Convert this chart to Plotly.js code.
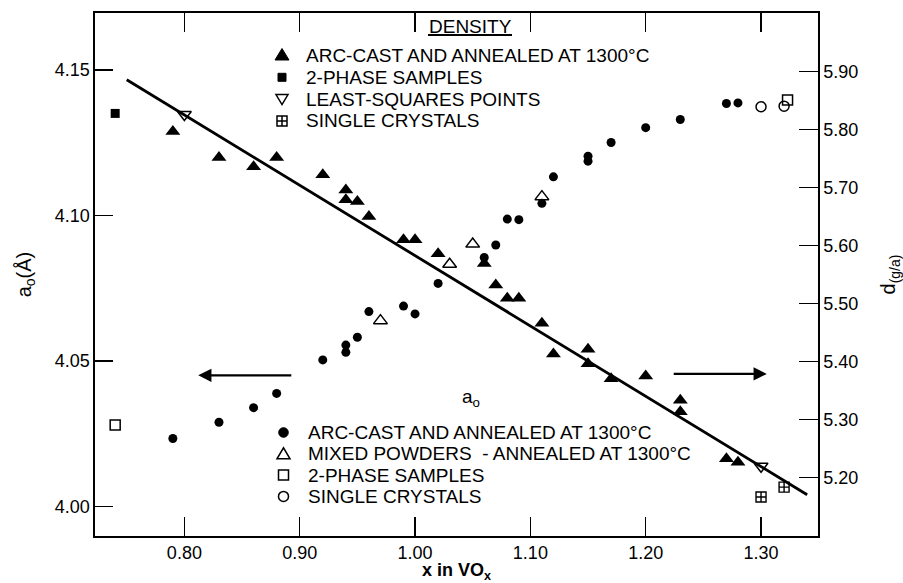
<!DOCTYPE html>
<html>
<head>
<meta charset="utf-8">
<script src="https://cdn.plot.ly/plotly-3.0.1.min.js"></script>
<style>
  html, body { margin: 0; padding: 0; background: #fff; }
  #chart { width: 903px; height: 583px; }
</style>
</head>
<body>
<div id="chart"></div>
<script>
// ---- Density (right axis, g/a) ----
const densArcX   = [0.79, 0.83, 0.86, 0.88, 0.92, 0.94, 0.94, 0.95, 0.96, 0.99, 1.00, 1.02, 1.06,
                    1.07, 1.08, 1.09, 1.11, 1.12, 1.15, 1.15, 1.17, 1.20, 1.23, 1.23, 1.27, 1.28];
const densArcD   = [5.797, 5.752, 5.736, 5.752, 5.722, 5.696, 5.679, 5.676, 5.650, 5.610, 5.610, 5.586, 5.569,
                    5.532, 5.509, 5.509, 5.466, 5.413, 5.421, 5.396, 5.370, 5.375, 5.333, 5.313, 5.232, 5.226];
const dens2PhX   = [0.74];
const dens2PhD   = [5.828];
const lsqX       = [0.80, 1.30];
const lsqD       = [5.826, 5.219];
const densXtalX  = [1.30, 1.32];
const densXtalD  = [5.166, 5.183];
const fitX       = [0.75, 1.34];
const fitD       = [5.886, 5.170];

// ---- Lattice parameter a0 (left axis, Angstrom) ----
const aArcX      = [0.79, 0.83, 0.86, 0.88, 0.92, 0.94, 0.94, 0.95, 0.96, 0.99, 1.00, 1.02, 1.06,
                    1.07, 1.08, 1.09, 1.11, 1.12, 1.15, 1.15, 1.17, 1.20, 1.23, 1.27, 1.28];
const aArcA      = [4.0234, 4.0290, 4.0340, 4.0389, 4.0504, 4.0555, 4.0530, 4.0582, 4.0670, 4.0689, 4.0662, 4.0767, 4.0856,
                    4.0899, 4.0988, 4.0986, 4.1042, 4.1133, 4.1204, 4.1187, 4.1251, 4.1302, 4.1330, 4.1385, 4.1387];
const aMixX      = [0.97, 1.03, 1.05, 1.11];
const aMixA      = [4.0639, 4.0833, 4.0902, 4.1065];
const a2PhX      = [0.74, 1.323];
const a2PhA      = [4.028, 4.1397];
const aXtalX     = [1.30, 1.32];
const aXtalA     = [4.1374, 4.1376];

// ---- Ticks ----
const xTicks     = [0.80, 0.90, 1.00, 1.10, 1.20, 1.30];
const aTicks     = [4.00, 4.05, 4.10, 4.15];
const dTicks     = [5.20, 5.30, 5.40, 5.50, 5.60, 5.70, 5.80, 5.90];

// ---- Legend labels ----
const densityLabels = ['ARC-CAST AND ANNEALED AT 1300°C', '2-PHASE SAMPLES', 'LEAST-SQUARES POINTS', 'SINGLE CRYSTALS'];
const aLabels       = ['ARC-CAST AND ANNEALED AT 1300°C', 'MIXED POWDERS  - ANNEALED AT 1300°C', '2-PHASE SAMPLES', 'SINGLE CRYSTALS'];

const FONT = 'Liberation Sans, Arial, Helvetica, sans-serif';
const INK = '#000';
const W = 903, H = 583;
const M = { l: 95, r: 85, t: 13, b: 47 };

// pixel position on the page -> paper fraction
const px2x = px => (px - M.l) / (W - M.l - M.r);
const py2y = py => (H - M.b - py) / (H - M.t - M.b);

const traces = [
  { x: fitX, y: fitD, yaxis: 'y2', mode: 'lines', line: { color: INK, width: 2.8 }, hoverinfo: 'skip' },
  { x: densArcX, y: densArcD, yaxis: 'y2', mode: 'markers',
    marker: { symbol: 'triangle-up', size: 13, color: INK, line: { width: 0 } } },
  { x: dens2PhX, y: dens2PhD, yaxis: 'y2', mode: 'markers',
    marker: { symbol: 'square', size: 9, color: INK, line: { width: 0 } } },
  { x: lsqX, y: lsqD, yaxis: 'y2', mode: 'markers',
    marker: { symbol: 'triangle-down-open', size: 12, color: INK, line: { width: 1.5, color: INK } } },
  { x: densXtalX, y: densXtalD, yaxis: 'y2', mode: 'markers',
    marker: { symbol: 'square-cross-open', size: 10, color: INK, line: { width: 1.4, color: INK } } },
  { x: aArcX, y: aArcA, yaxis: 'y', mode: 'markers',
    marker: { symbol: 'circle', size: 9, color: INK, line: { width: 0 } } },
  { x: aMixX, y: aMixA, yaxis: 'y', mode: 'markers',
    marker: { symbol: 'triangle-up-open', size: 12, color: INK, line: { width: 1.5, color: INK } } },
  { x: a2PhX, y: a2PhA, yaxis: 'y', mode: 'markers',
    marker: { symbol: 'square-open', size: 10, color: INK, line: { width: 1.5, color: INK } } },
  { x: aXtalX, y: aXtalA, yaxis: 'y', mode: 'markers',
    marker: { symbol: 'circle-open', size: 10, color: INK, line: { width: 1.5, color: INK } } }
];

// legend key drawn as a small pixel-sized shape
function keyShapes(kind, px, py) {
  const base = { xref: 'paper', yref: 'paper', xsizemode: 'pixel', ysizemode: 'pixel',
                 xanchor: px2x(px), yanchor: py2y(py), line: { color: INK, width: 1.5 } };
  const filled = { fillcolor: INK, line: { color: INK, width: 1 } };
  switch (kind) {
    case 'triUp':     return [Object.assign({}, base, filled, { type: 'path', path: 'M -7 -4.5 L 7 -4.5 L 0 7 Z' })];
    case 'sq':        return [Object.assign({}, base, filled, { type: 'rect', x0: -4, x1: 4, y0: -4, y1: 4 })];
    case 'triDownO':  return [Object.assign({}, base, { type: 'path', path: 'M -6 4.5 L 6 4.5 L 0 -5.5 Z' })];
    case 'sqCross':   return [Object.assign({}, base, { type: 'rect', x0: -5, x1: 5, y0: -5, y1: 5 }),
                              Object.assign({}, base, { type: 'path', path: 'M -5 0 L 5 0 M 0 -5 L 0 5' })];
    case 'circ':      return [Object.assign({}, base, filled, { type: 'circle', x0: -4.8, x1: 4.8, y0: -4.8, y1: 4.8 })];
    case 'triUpO':    return [Object.assign({}, base, { type: 'path', path: 'M -6.5 -5 L 6.5 -5 L 0 6 Z' })];
    case 'sqO':       return [Object.assign({}, base, { type: 'rect', x0: -5, x1: 5, y0: -5, y1: 5 })];
    case 'circO':     return [Object.assign({}, base, { type: 'circle', x0: -5, x1: 5, y0: -5, y1: 5 })];
  }
  return [];
}

const legendFont = { family: FONT, size: 19, color: INK };
const annotations = [];
const shapes = [];

// "DENSITY" block
annotations.push({ xref: 'paper', yref: 'paper', x: px2x(470), y: py2y(26), xanchor: 'center', yanchor: 'middle',
                   text: 'DENSITY', showarrow: false, font: legendFont });
shapes.push({ type: 'line', xref: 'paper', yref: 'paper', x0: px2x(428), x1: px2x(512), y0: py2y(35), y1: py2y(35),
              line: { color: INK, width: 1.8 } });
const densityKeys = ['triUp', 'sq', 'triDownO', 'sqCross'];
densityLabels.forEach((t, i) => {
  const py = 55.5 + i * 21.8;
  shapes.push(...keyShapes(densityKeys[i], 282, py));
  annotations.push({ xref: 'paper', yref: 'paper', x: px2x(304), y: py2y(py), xanchor: 'left', yanchor: 'middle',
                     text: t, showarrow: false, font: legendFont });
});

// a0 block
annotations.push({ xref: 'paper', yref: 'paper', x: px2x(471), y: py2y(398), xanchor: 'center', yanchor: 'middle',
                   text: 'a<sub>o</sub>', showarrow: false, font: legendFont });
const aKeys = ['circ', 'triUpO', 'sqO', 'circO'];
aLabels.forEach((t, i) => {
  const py = 432.5 + i * 21.3;
  shapes.push(...keyShapes(aKeys[i], 283.5, py));
  annotations.push({ xref: 'paper', yref: 'paper', x: px2x(305.5), y: py2y(py), xanchor: 'left', yanchor: 'middle',
                     text: t, showarrow: false, font: legendFont });
});

// arrows pointing to the axis each group belongs to
const arrowStyle = { text: '', showarrow: true, arrowhead: 2, arrowsize: 1.1, arrowwidth: 2.4, arrowcolor: INK,
                     xref: 'x', yref: 'y', axref: 'x', ayref: 'y' };
annotations.push(Object.assign({}, arrowStyle, { x: 0.812, y: 4.0451, ax: 0.894, ay: 4.0451 }));
annotations.push(Object.assign({}, arrowStyle, { x: 1.305, y: 4.0456, ax: 1.223, ay: 4.0456 }));

const axisCommon = {
  showgrid: false, zeroline: false, showline: true, linecolor: INK, linewidth: 1.6,
  ticks: 'inside', ticklen: 19, tickwidth: 1.5, tickcolor: INK,
  tickfont: { family: FONT, size: 18, color: INK }, tickformat: '.2f'
};

const layout = {
  width: W, height: H,
  margin: M,
  paper_bgcolor: '#fff', plot_bgcolor: '#fff',
  showlegend: false,
  font: { family: FONT, color: INK },
  xaxis: Object.assign({}, axisCommon, {
    range: [0.7225, 1.3494], tickvals: xTicks, mirror: 'ticks',
    title: { text: 'x in VO<sub>x</sub>', font: { family: FONT, size: 18, color: INK, weight: 'bold' }, standoff: 8 }
  }),
  yaxis: Object.assign({}, axisCommon, {
    range: [3.9899, 4.1696], tickvals: aTicks, side: 'left', ticklen: 18,
    title: { text: 'a<sub>o</sub>(Å)', font: { family: FONT, size: 20, color: INK }, standoff: 18 }
  }),
  yaxis2: Object.assign({}, axisCommon, {
    range: [5.0987, 6.0013], tickvals: dTicks, side: 'right', overlaying: 'y',
    title: { text: 'd<sub>(g/a)</sub>', font: { family: FONT, size: 20, color: INK }, standoff: 24 }
  }),
  annotations: annotations,
  shapes: shapes
};

Plotly.newPlot('chart', traces, layout, { staticPlot: true, displayModeBar: false });
</script>
</body>
</html>
